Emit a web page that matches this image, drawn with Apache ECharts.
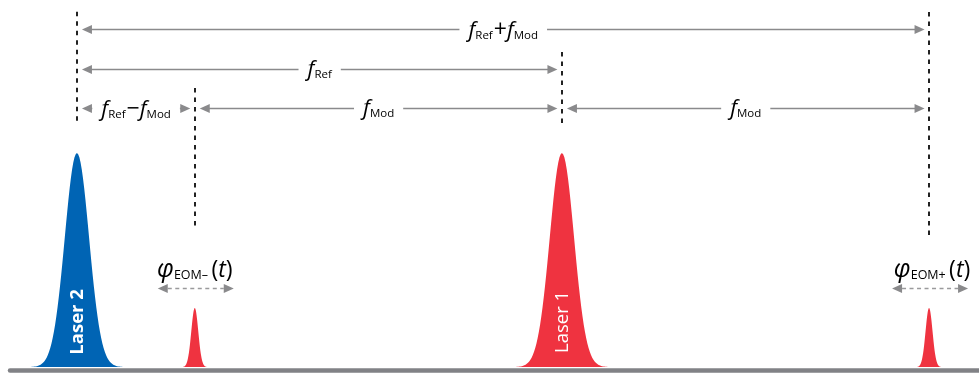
<!DOCTYPE html>
<html>
<head>
<meta charset="utf-8">
<script src="https://cdn.jsdelivr.net/npm/echarts@6/dist/echarts.min.js"></script>
<style>html,body{margin:0;padding:0;background:#fff}#c{width:979px;height:375px}</style>
</head>
<body>
<div id="c"></div>
<script>
// ---- data (frequency axis in units of f_Ref, amplitude normalised) ----
const peakNames  = ['Laser 2', '', 'Laser 1', ''];
const peakFreq   = [0, 0.243, 1.0, 1.757];
const peakHeight = [0.583, 0.161, 0.583, 0.161];
const peakSigma  = [0.025, 0.0072, 0.025, 0.0072];
const spanLabels = [
  '{f|f}{s|Ref}{o|+}{f|f}{s|Mod}',
  '{f|f}{s|Ref}',
  '{f|f}{s|Ref}{o|−}{f|f}{s|Mod}',
  '{f|f}{s|Mod}',
  '{f|f}{s|Mod}'
];
const spanFrom = [0, 0, 0, 1, 2];
const spanTo   = [3, 2, 1, 2, 3];
const spanRow  = [0, 1, 2, 2, 2];
const phaseLabels = ['{p|φ}{ps|EOM–} {t|(}{ti|t}{t|)}', '{p|φ}{ps|EOM+} {t|(}{ti|t}{t|)}'];
const phasePeak   = [1, 3];

// ---- layout (not data) ----
const rowLevel = [0.920, 0.811, 0.705];
const markerTop = [0.968, 0.760, 0.858, 0.967];
const markerBottom = [0.660, 0.373, 0.654, 0.346];
const peakColor = ['#0064b4', '#ef3340', '#ef3340', '#ef3340'];
const peakLabelLevel = 0.123;
const peakLabelWeight = ['bold', 500, 500, 500];
const phaseLabelLevel = 0.270;
const phaseArrowLevel = 0.215;
const FONT = '"Open Sans", "DejaVu Sans", sans-serif';
const TXT = '#333';
const GREY = '#8a8a8c';

const rich = {
  f: {fontFamily: FONT, fontStyle: 'italic', fontSize: 22, color: TXT, verticalAlign: 'bottom', lineHeight: 25},
  s: {fontFamily: FONT, fontSize: 11.5, color: TXT, verticalAlign: 'bottom', lineHeight: 13},
  o: {fontFamily: FONT, fontSize: 23, color: TXT, verticalAlign: 'bottom', lineHeight: 26, padding: [0, 0, 0, 1]},
  p: {fontFamily: FONT, fontStyle: 'italic', fontSize: 25, color: TXT, verticalAlign: 'bottom', lineHeight: 28},
  ps: {fontFamily: FONT, fontSize: 12.5, color: TXT, verticalAlign: 'bottom', lineHeight: 14},
  t: {fontFamily: FONT, fontSize: 23, color: TXT, verticalAlign: 'bottom', lineHeight: 28},
  ti: {fontFamily: FONT, fontStyle: 'italic', fontSize: 23, color: TXT, verticalAlign: 'bottom', lineHeight: 28}
};

function arrowHead(x, y, dir, color) {
  // dir = +1 points right, -1 points left
  return {type: 'polygon', shape: {points: [[x, y], [x - dir * 10, y - 4.5], [x - dir * 10, y + 4.5]]}, style: {fill: color}};
}

const chart = echarts.init(document.getElementById('c'));
chart.setOption({
  animation: false,
  grid: {left: 10, right: 0, top: 0, bottom: 5},
  xAxis: {
    type: 'value', min: -0.138, max: 1.860,
    axisLine: {show: true, onZero: false, lineStyle: {color: '#818286', width: 4.5}},
    axisTick: {show: false}, axisLabel: {show: false}, splitLine: {show: false}
  },
  yAxis: {type: 'value', min: -0.008, max: 1, show: false},
  series: [
    { // spectral peaks
      type: 'custom', z: 3,
      data: peakFreq.map((f, i) => [f, peakHeight[i], peakSigma[i]]),
      renderItem: function (params, api) {
        const i = params.dataIndex;
        const c = api.value(0), h = api.value(1), s = api.value(2);
        const pts = [];
        for (let k = -45; k <= 45; k++) {
          const u = k / 10;
          pts.push(api.coord([c + u * s, h * Math.exp(-0.5 * u * u)]));
        }
        pts.push(api.coord([c + 4.5 * s, 0]));
        pts.push(api.coord([c - 4.5 * s, 0]));
        const children = [{type: 'polygon', shape: {points: pts}, style: {fill: peakColor[i]}}];
        if (peakNames[i]) {
          const p = api.coord([c, peakLabelLevel]);
          children.push({
            type: 'text', x: p[0] + 1, y: p[1], rotation: Math.PI / 2,
            style: {text: peakNames[i], fill: '#fff', fontSize: 18.5, fontWeight: peakLabelWeight[i], fontFamily: FONT, align: 'center', verticalAlign: 'middle'}
          });
        }
        return {type: 'group', children: children};
      }
    },
    { // dashed frequency markers
      type: 'custom', z: 2,
      data: peakFreq.map((f, i) => [f, markerTop[i], markerBottom[i]]),
      renderItem: function (params, api) {
        const a = api.coord([api.value(0), api.value(1)]);
        const b = api.coord([api.value(0), api.value(2)]);
        return {type: 'line', shape: {x1: Math.round(a[0]), y1: a[1], x2: Math.round(b[0]), y2: b[1]},
          style: {stroke: '#222', lineWidth: 2, lineDash: [4.5, 5]}};
      }
    },
    { // frequency spans
      type: 'custom', z: 4,
      data: spanFrom.map((a, i) => [peakFreq[a], peakFreq[spanTo[i]], rowLevel[spanRow[i]]]),
      renderItem: function (params, api) {
        const i = params.dataIndex;
        const p1 = api.coord([api.value(0), api.value(2)]);
        const p2 = api.coord([api.value(1), api.value(2)]);
        const y = Math.round(p1[1]) + 0.5;
        const x1 = p1[0] + 5, x2 = p2[0] - 4.5;
        return {type: 'group', children: [
          {type: 'line', shape: {x1: x1 + 8, y1: y, x2: x2 - 8, y2: y}, style: {stroke: GREY, lineWidth: 1.6}},
          arrowHead(x1, y, -1, GREY),
          arrowHead(x2, y, 1, GREY),
          {type: 'text', x: (x1 + x2) / 2, y: y - 1,
            style: {text: spanLabels[i], rich: rich, align: 'center', verticalAlign: 'middle', backgroundColor: '#fff', padding: [0, 9, 0, 9]}}
        ]};
      }
    },
    { // phase jitter of EOM sidebands
      type: 'custom', z: 4,
      data: phasePeak.map(k => [peakFreq[k], phaseLabelLevel, phaseArrowLevel]),
      renderItem: function (params, api) {
        const i = params.dataIndex;
        const pl = api.coord([api.value(0), api.value(1)]);
        const pa = api.coord([api.value(0), api.value(2)]);
        const cx = pa[0] + 1, y = Math.round(pa[1]) + 0.5;
        return {type: 'group', children: [
          {type: 'line', shape: {x1: cx - 28, y1: y, x2: cx + 28, y2: y}, style: {stroke: '#9a9a9c', lineWidth: 1.5, lineDash: [4, 3.5]}},
          arrowHead(cx - 38, y, -1, GREY),
          arrowHead(cx + 38, y, 1, GREY),
          {type: 'text', x: pl[0] + (i === 1 ? 3 : 0), y: pl[1],
            style: {text: phaseLabels[i], rich: rich, align: 'center', verticalAlign: 'middle'}}
        ]};
      }
    }
  ]
});
</script>
</body>
</html>
